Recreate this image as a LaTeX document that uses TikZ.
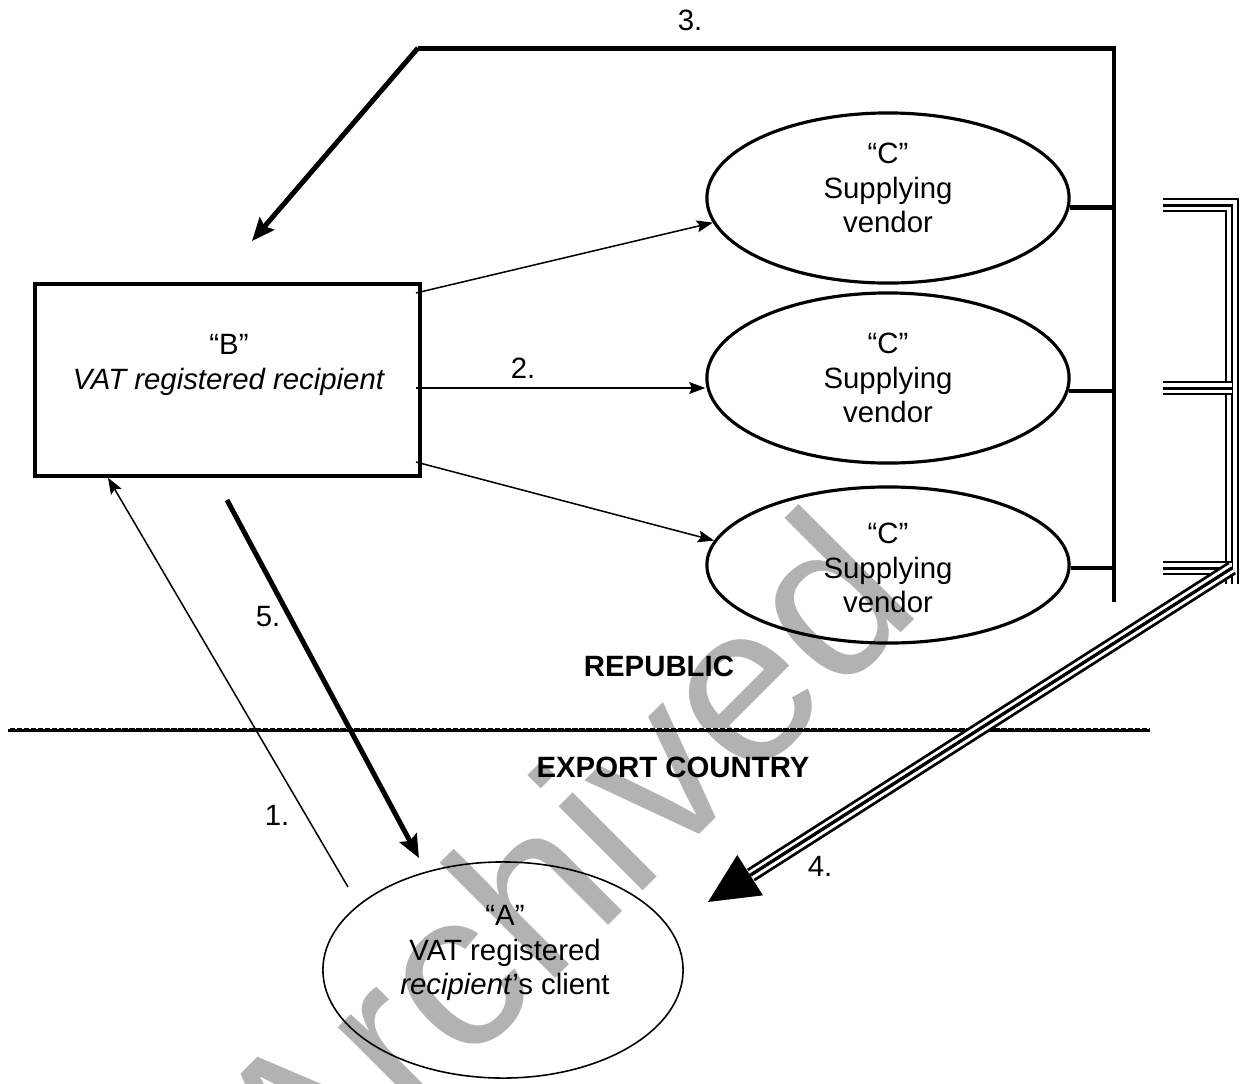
\documentclass[tikz,border=0pt]{standalone}
\usepackage{fontspec}
\setmainfont{Liberation Sans}
\usetikzlibrary{arrows.meta,shapes.geometric}
\tikzset{
  txt/.style={align=center, inner sep=0pt, font=\fontsize{8.35}{9.8}\selectfont},
  lbl/.style={inner sep=0pt, font=\fontsize{8.35}{9.8}\selectfont},
  boldlbl/.style={inner sep=0pt, font=\fontsize{8.35}{9.8}\selectfont\bfseries},
  ellc/.style={ellipse, draw, line width=0.9pt, minimum width=3.62cm, minimum height=1.7cm, inner sep=0pt},
  ella/.style={ellipse, draw, line width=0.45pt, minimum width=3.6cm, minimum height=2.16cm, inner sep=0pt},
  boxb/.style={draw, line width=0.95pt, minimum width=3.85cm, minimum height=1.92cm, inner sep=0pt},
  thinarr/.style={line width=0.43pt, -{Stealth[length=4.6pt,width=3.4pt,inset=0.8pt]}},
  thickarr/.style={line width=1.42pt, -{Stealth[length=6.5pt,width=5.4pt,inset=1pt]}},
  thickline/.style={line width=1.42pt, line join=miter},
  stub/.style={line width=1.15pt},
  triple/.style={draw=black, line width=4.2pt, line join=miter,
    postaction={draw=white, line width=2.6pt},
    postaction={draw=black, line width=0.85pt}},
  bigtip/.style={line width=0.85pt, -{Triangle[length=14.2pt,width=13.4pt]}},
  wmark/.style={text=black!30, inner sep=0pt, font=\fontsize{64}{64}\selectfont},
}
\begin{document}
\begin{tikzpicture}[x=0.01cm,y=-0.01cm]
\useasboundingbox (0,0) rectangle (1247,1084);
% watermark (behind)
\begin{scope}
\clip (0,0) rectangle (1247,1084);
\node[wmark, rotate=45, anchor=base west] (wm) at (305,1229) {Archived};
\end{scope}

% nodes
\node[boxb] (B) at (227.5,380) {};
\node[txt] (Bt) at (229,365) {“B”\\\textit{VAT registered recipient}};

\node[ellc] (c1) at (888,198) {};
\node[ellc] (c2) at (888,378) {};
\node[ellc, minimum height=1.56cm] (c3) at (888,565) {};
\node[txt] (c1t) at (888,188) {“C”\\Supplying\\vendor};
\node[txt] (c2t) at (888,378) {“C”\\Supplying\\vendor};
\node[txt] (c3t) at (888,568) {“C”\\Supplying\\vendor};

\node[ella] (A) at (503,970) {};
\node[txt] (At) at (505,953) {“A”\\VAT registered\\\textit{recipient}’s client};

% labels
\node[lbl] (l3) at (690,20) {3.};
\node[lbl] (l2) at (523,368) {2.};
\node[lbl] (l5) at (268,617) {5.};
\node[lbl] (l1) at (277,815) {1.};
\node[lbl] (l4) at (820,866) {4.};
\node[boldlbl] (rep) at (659,666) {REPUBLIC};
\node[boldlbl] (exp) at (673,767) {EXPORT COUNTRY};

% border line
\coordinate (d1) at (8,730);
\coordinate (d2) at (1150,730);
\draw[line width=1.1pt] (d1) -- (d2);
\draw[white, line width=0.32pt, dash pattern=on 0.45pt off 1.55pt] ([yshift=0.42pt]d1) -- ([yshift=0.42pt]d2);

% arrow 3 and collecting line
\coordinate (v0) at (418,48);
\coordinate (v1) at (1114,48);
\coordinate (v2) at (1114,602);
\coordinate (t3) at (252,241);
\draw[thickline] (v2) -- (v1) -- (v0);
\draw[thickarr] (v0) -- (t3);
\draw[stub] (c1.-3) -- (c1.-3 -| v1);
\draw[stub] (c2.-4) -- (c2.-4 -| v1);
\draw[stub] (c3.-1) -- (c3.-1 -| v1);

% B to C arrows
\coordinate (b1) at (416,293);
\coordinate (b2) at (416,388);
\coordinate (b3) at (416,462);
\draw[thinarr] (b1) -- (c1.188);
\draw[thinarr] (b2) -- (b2 -| c2.west);
\draw[thinarr] (b3) -- (c3.172);

% arrows 1 and 5
\coordinate (a1s) at (348,887);
\coordinate (a5s) at (227,500);
\coordinate (a5e) at (419,858);
\draw[thinarr] (a1s) -- (B.south west -| 108,0);
\draw[thickarr] (a5s) -- (a5e);

% triple line structure
\coordinate (s1) at (1163,205);
\coordinate (s2) at (1163,388);
\coordinate (s3) at (1163,568);
\coordinate (k1) at (1232,205);
\coordinate (k2) at (1232,388);
\coordinate (k3) at (1232,568);
\coordinate (kb) at (1232,584);
\coordinate (t4b) at (751,875);
\coordinate (t4) at (708,902);
\path[triple] (s1) -- (k1) -- (kb);
\path[triple] (s2) -- (k2);
\path[triple] (s3) -- (k3);
\path[triple] (k3) -- (t4b);
\draw[bigtip] (k3) -- (t4);
\end{tikzpicture}
\end{document}
